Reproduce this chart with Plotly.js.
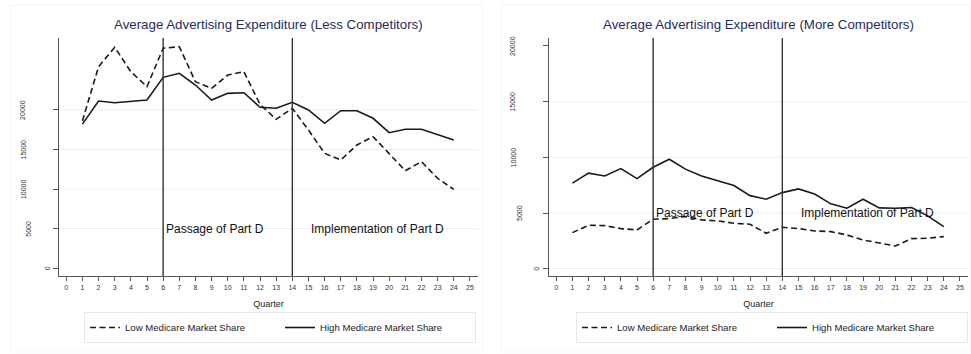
<!DOCTYPE html>
<html>
<head>
<meta charset="utf-8">
<script src="https://cdn.plot.ly/plotly-3.0.1.min.js"></script>
<style>html,body{margin:0;padding:0;background:#fff;}#chart{width:971px;height:354px;}</style>
</head>
<body>
<div id="chart"></div>
<script>
var quarters = [1,2,3,4,5,6,7,8,9,10,11,12,13,14,15,16,17,18,19,20,21,22,23,24];
var lessLow  = [18600,25450,27900,24820,22930,27780,27980,23560,22720,24400,24820,20700,18810,20200,17460,14520,13670,15570,16620,14470,12320,13460,11360,9970];
var lessHigh = [18200,21120,20910,21040,21250,24110,24620,23140,21250,22090,22170,20330,20200,20960,19990,18310,19900,19900,18940,17120,17550,17550,16920,16200];
var moreLow  = [3240,3900,3870,3600,3480,4440,4500,4680,4380,4290,4080,3990,3180,3720,3600,3390,3330,3030,2580,2280,2040,2700,2730,2880];
var moreHigh = [7680,8580,8330,8990,8090,9110,9830,8940,8330,7910,7460,6560,6240,6830,7160,6710,5820,5430,6240,5460,5430,5490,4740,3780];
var xTicks = [0,1,2,3,4,5,6,7,8,9,10,11,12,13,14,15,16,17,18,19,20,21,22,23,24,25];
var yTicks = [0,5000,10000,15000,20000];
var gridLess = [5000,10000,15000,20000];
var gridMore = [0,5000,10000,15000];
var eventQuarters = [6,14];
var eventLabels = ["Passage of Part D","Implementation of Part D"];
var eventLabelX = [6,15];
var eventLabelY = 5000;
var titles = ["Average Advertising Expenditure (Less Competitors)","Average Advertising Expenditure (More Competitors)"];
var seriesNames = ["Low Medicare Market Share","High Medicare Market Share"];

var FONT = "Liberation Sans, Arial, Helvetica, sans-serif";
var ink = "#1a1a1a";
var axisCol = "#555";
var gridCol = "#e6eff1";

function mk(x, y, name, dash, xa, ya, leg) {
  return {x: x, y: y, type: "scatter", mode: "lines", name: name,
    xaxis: xa, yaxis: ya, legend: leg,
    line: {color: ink, width: 1.6, dash: dash}, hoverinfo: "x+y"};
}
var dashPat = "6px,3.5px";
var data = [
  mk(quarters, lessLow, seriesNames[0], dashPat, "x", "y", "legend"),
  mk(quarters, lessHigh, seriesNames[1], "solid", "x", "y", "legend"),
  mk(quarters, moreLow, seriesNames[0], dashPat, "x2", "y2", "legend2"),
  mk(quarters, moreHigh, seriesNames[1], "solid", "x2", "y2", "legend2")
];

function xax(domain) {
  return {domain: domain, range: [-0.45, 25.5], tickmode: "array", tickvals: xTicks,
    ticktext: xTicks.map(String), ticks: "outside", ticklen: 4, tickwidth: 1, tickcolor: axisCol,
    showline: true, linecolor: axisCol, linewidth: 1, showgrid: false, zeroline: false,
    tickfont: {family: FONT, size: 7, color: "#333"}, ticklabelstandoff: 1,
    title: {text: "Quarter", font: {family: FONT, size: 9, color: "#222"}, standoff: 10},
    fixedrange: true, automargin: false};
}
function yax(range, anchor) {
  return {domain: [0.22034, 0.89266], range: range, anchor: anchor, tickmode: "array", tickvals: yTicks,
    showticklabels: false, ticks: "outside", ticklen: 5, tickwidth: 1, tickcolor: axisCol,
    showline: true, linecolor: axisCol, linewidth: 1, showgrid: false, zeroline: false,
    fixedrange: true, automargin: false};
}

var shapes = [
  {type: "rect", xref: "paper", yref: "paper", x0: 10/971, x1: 482/971, y0: 1 - 352/354, y1: 1 - 5/354,
    line: {color: "#f1f3f3", width: 1}, layer: "below"},
  {type: "rect", xref: "paper", yref: "paper", x0: 502/971, x1: 970/971, y0: 1 - 352/354, y1: 1 - 5/354,
    line: {color: "#f1f3f3", width: 1}, layer: "below"}
];
var annotations = [];
var panels = [
  {xa: "x", ya: "y", grid: gridLess},
  {xa: "x2", ya: "y2", grid: gridMore}
];
panels.forEach(function(p, i) {
  p.grid.forEach(function(g) {
    shapes.push({type: "line", xref: p.xa + " domain", yref: p.ya, x0: 0, x1: 1, y0: g, y1: g,
      line: {color: gridCol, width: 1}, layer: "below"});
  });
  eventQuarters.forEach(function(q) {
    shapes.push({type: "line", xref: p.xa, yref: p.ya + " domain", x0: q, x1: q, y0: 0, y1: 1,
      line: {color: "#333", width: 1.4}, layer: "above"});
  });
  eventLabels.forEach(function(t, k) {
    annotations.push({text: t, xref: p.xa, yref: p.ya, x: eventLabelX[k], y: eventLabelY,
      xanchor: "left", yanchor: "middle", showarrow: false, xshift: 1,
      font: {family: FONT, size: 12, color: "#111"}});
  });
  yTicks.forEach(function(v) {
    var s = String(v);
    annotations.push({text: s, xref: p.xa + " domain", yref: p.ya, x: 0, y: v,
      xanchor: "center", yanchor: "middle", textangle: -90, showarrow: false,
      xshift: -(6 + 6 * s.length), font: {family: FONT, size: 7, color: "#333"}});
  });
  annotations.push({text: titles[i], xref: p.xa + " domain", yref: "paper", x: 0.5, y: 1 - 25/354,
    xanchor: "center", yanchor: "middle", showarrow: false,
    font: {family: FONT, size: 13.3, color: "#1f2d5c"}});
});

function leg(x) {
  return {orientation: "h", x: x, y: 1 - 312/354, xanchor: "left", yanchor: "top",
    bordercolor: "#e3e9eb", borderwidth: 1, bgcolor: "#fff",
    font: {family: FONT, size: 9.6, color: "#222"},
    entrywidth: 150, entrywidthmode: "pixels", itemwidth: 30, tracegroupgap: 0, traceorder: "normal"};
}

var layout = {
  width: 971, height: 354,
  margin: {l: 0, r: 0, t: 0, b: 0, pad: 0, autoexpand: false},
  paper_bgcolor: "#fff", plot_bgcolor: "#fff",
  font: {family: FONT},
  showlegend: true,
  xaxis: xax([59/971, 478/971]),
  yaxis: yax([-972, 29077], "x"),
  xaxis2: xax([549/971, 968/971]),
  yaxis2: yax([-656, 20713], "x2"),
  legend: leg(84/971),
  legend2: leg(576/971),
  shapes: shapes,
  annotations: annotations
};
layout.xaxis.anchor = "y";
layout.xaxis2.anchor = "y2";

Plotly.newPlot("chart", data, layout, {displayModeBar: false, staticPlot: true});
</script>
</body>
</html>
